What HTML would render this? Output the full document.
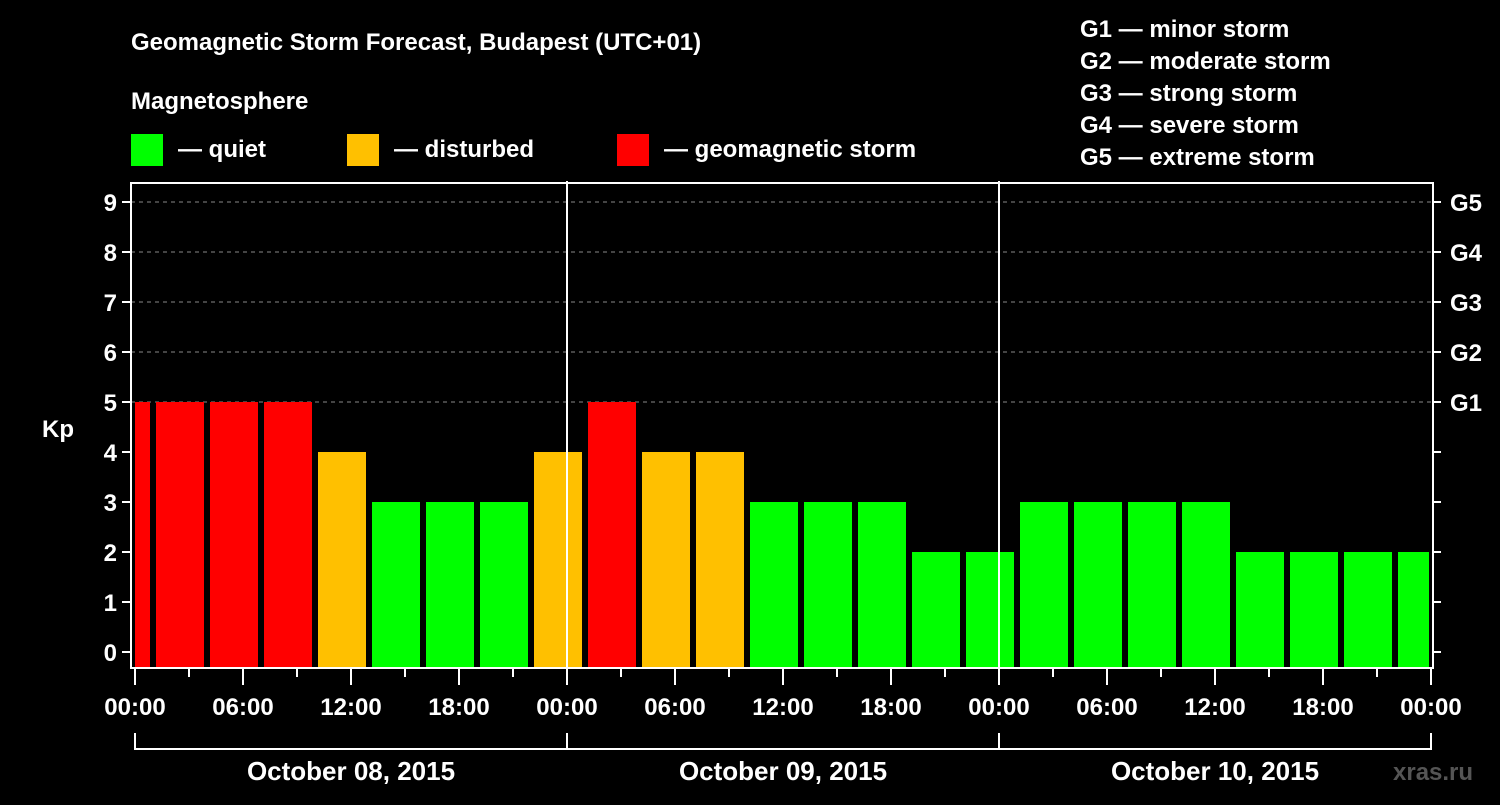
<!DOCTYPE html>
<html><head><meta charset="utf-8"><style>
body{margin:0;background:#000;width:1500px;height:800px;overflow:hidden}
svg text{font-family:"Liberation Sans",Arial,sans-serif;font-weight:bold;fill:#fff}
</style></head><body>
<svg id="c" width="1500" height="800" xmlns="http://www.w3.org/2000/svg">
<text x="131" y="50" font-size="24">Geomagnetic Storm Forecast, Budapest (UTC+01)</text>
<text x="131" y="109" font-size="24">Magnetosphere</text>
<rect x="131" y="134" width="32" height="32" fill="#00ff00"/>
<text x="178" y="157" font-size="24">— quiet</text>
<rect x="347" y="134" width="32" height="32" fill="#ffc000"/>
<text x="394" y="157" font-size="24">— disturbed</text>
<rect x="617" y="134" width="32" height="32" fill="#ff0000"/>
<text x="664" y="157" font-size="24">— geomagnetic storm</text>
<g font-size="24">
<text x="1080" y="37">G1 — minor storm</text>
<text x="1080" y="69">G2 — moderate storm</text>
<text x="1080" y="101">G3 — strong storm</text>
<text x="1080" y="133">G4 — severe storm</text>
<text x="1080" y="165">G5 — extreme storm</text>
</g>
<g id="grid"></g><g id="bars"></g><g id="axes"></g>
<text x="42" y="437" font-size="24">Kp</text>
<text x="1393" y="780" font-size="24" fill="#555" style="fill:#555">xras.ru</text>
</svg>
<script>
const kpValues=[5,5,5,5,4,3,3,3,4,5,4,4,3,3,3,2,2,3,3,3,3,2,2,2,2];
const firstBarStartHour=-2;
const tickLabels=["00:00","06:00","12:00","18:00","00:00","06:00","12:00","18:00","00:00","06:00","12:00","18:00","00:00"];
const dayLabels=["October 08, 2015","October 09, 2015","October 10, 2015"];
const gLabels=["G1","G2","G3","G4","G5"];
const NS="http://www.w3.org/2000/svg";
const L=131,R=1433,T=183,B=668,X0=135;
const xs=h=>X0+h*18, ys=k=>652-50*k;
function mk(t,a,p){const e=document.createElementNS(NS,t);for(const k in a)e.setAttribute(k,a[k]);p.appendChild(e);return e;}
const grid=document.getElementById('grid'),bars=document.getElementById('bars'),axes=document.getElementById('axes');
for(let k=5;k<=9;k++){const l=mk('line',{x1:L,x2:R,y1:ys(k),y2:ys(k),stroke:'#888','stroke-dasharray':'4,4','stroke-width':1},grid);

}
kpValues.forEach((v,i)=>{
 const h0=firstBarStartHour+3*i;
 let x1=xs(h0)+3,x2=xs(h0+3)-3;
 x1=Math.max(x1,L+4);x2=Math.min(x2,R-4);
 const col=v>=5?'#ff0000':v>=4?'#ffc000':'#00ff00';
 const r=mk('rect',{x:x1,y:ys(v),width:x2-x1,height:B-ys(v),fill:col},bars);
 
 
});
[24,48].forEach(h=>{const l=mk('line',{x1:xs(h),x2:xs(h),y1:T-2,y2:B,stroke:'#fff','stroke-width':2},axes);

});
const fr=mk('rect',{x:L,y:T,width:R-L,height:B-T,fill:'none',stroke:'#fff','stroke-width':2},axes);


for(let k=0;k<=9;k++){
 mk('line',{x1:L-9,x2:L,y1:ys(k),y2:ys(k),stroke:'#fff','stroke-width':2},axes);
 mk('line',{x1:R,x2:R+8,y1:ys(k),y2:ys(k),stroke:'#fff','stroke-width':2},axes);
 const t=mk('text',{x:L-14,y:ys(k)+9,'font-size':24,'text-anchor':'end'},axes);t.textContent=k;
 
 
}
gLabels.forEach((g,i)=>{const t=mk('text',{x:1450,y:ys(5+i)+9,'font-size':24},axes);t.textContent=g;

});
for(let h=0;h<=72;h+=3){const maj=h%6==0;
 mk('line',{x1:xs(h),x2:xs(h),y1:B,y2:B+(maj?17:9),stroke:'#fff','stroke-width':2},axes);}
tickLabels.forEach((s,i)=>{const t=mk('text',{x:xs(i*6),y:715,'font-size':24,'text-anchor':'middle'},axes);t.textContent=s;

});
mk('polyline',{points:`${xs(0)},733 ${xs(0)},749 ${xs(72)},749 ${xs(72)},733`,fill:'none',stroke:'#fff','stroke-width':2},axes);
[24,48].forEach(h=>mk('line',{x1:xs(h),x2:xs(h),y1:733,y2:749,stroke:'#fff','stroke-width':2},axes));
dayLabels.forEach((s,i)=>{const t=mk('text',{x:xs(24*i+12),y:780,'font-size':26,'text-anchor':'middle'},axes);t.textContent=s;

});
</script>
</body></html>
